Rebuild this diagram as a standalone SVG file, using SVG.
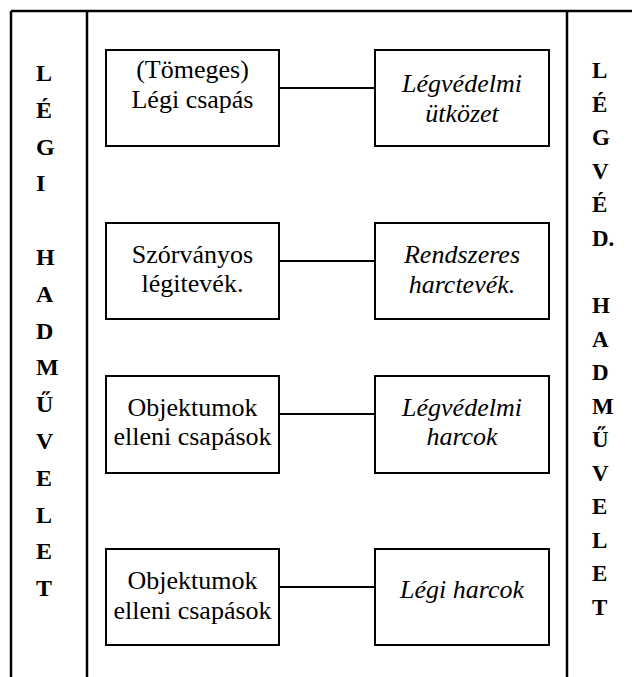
<svg xmlns="http://www.w3.org/2000/svg" width="632" height="677" viewBox="0 0 632 677">
<style>
.frame{stroke:#000;stroke-width:2.5;fill:none}
.box{stroke:#000;stroke-width:2;fill:#fff}
.conn{stroke:#000;stroke-width:2;fill:none}
text{font-family:'Liberation Serif',serif;fill:#000}
</style>
<rect width="632" height="677" fill="#fff"/>
<g id="frame">
<line class="frame" x1="11" y1="11" x2="632" y2="11"/>
<line class="frame" x1="11" y1="11" x2="11" y2="677"/>
<line class="frame" x1="87" y1="11" x2="87" y2="677"/>
<line class="frame" x1="567" y1="11" x2="567" y2="677"/>
</g>
<g id="left-title" font-weight="bold" font-size="24">
<text x="36" y="81">L</text>
<text x="36" y="117.8">É</text>
<text x="36" y="154.6">G</text>
<text x="36" y="191.4">I</text>
<text x="36" y="265">H</text>
<text x="36" y="301.8">A</text>
<text x="36" y="338.6">D</text>
<text x="36" y="375.4">M</text>
<text x="36" y="412.2">Ű</text>
<text x="36" y="449">V</text>
<text x="36" y="485.8">E</text>
<text x="36" y="522.6">L</text>
<text x="36" y="559.4">E</text>
<text x="36" y="596.2">T</text>
</g>
<g id="right-title" font-weight="bold" font-size="23">
<text x="592" y="78">L</text>
<text x="592" y="111.6">É</text>
<text x="592" y="145.1">G</text>
<text x="592" y="178.7">V</text>
<text x="592" y="212.2">É</text>
<text x="592" y="245.8">D.</text>
<text x="592" y="312.9">H</text>
<text x="592" y="346.5">A</text>
<text x="592" y="380">D</text>
<text x="592" y="413.6">M</text>
<text x="592" y="447.2">Ű</text>
<text x="592" y="480.7">V</text>
<text x="592" y="514.3">E</text>
<text x="592" y="547.8">L</text>
<text x="592" y="581.4">E</text>
<text x="592" y="615">T</text>
</g>
<g id="connectors">
<line class="conn" x1="279" y1="88" x2="375" y2="88"/>
<line class="conn" x1="279" y1="261" x2="375" y2="261"/>
<line class="conn" x1="279" y1="414" x2="375" y2="414"/>
<line class="conn" x1="279" y1="587" x2="375" y2="587"/>
</g>
<g font-size="26" text-anchor="middle">
<g id="n1">
<rect class="box" x="106" y="50" width="173" height="96"/>
<text x="192.5" y="78">(Tömeges)</text>
<text x="192.5" y="108">Légi csapás</text>
</g>
<g id="n2" font-style="italic">
<rect class="box" x="375" y="50" width="174" height="96"/>
<text x="462" y="92">Légvédelmi</text>
<text x="462" y="122">ütközet</text>
</g>
<g id="n3">
<rect class="box" x="106" y="223" width="173" height="96"/>
<text x="192.5" y="263">Szórványos</text>
<text x="192.5" y="292">légitevék.</text>
</g>
<g id="n4" font-style="italic">
<rect class="box" x="375" y="223" width="174" height="96"/>
<text x="462" y="263">Rendszeres</text>
<text x="462" y="293">harctevék.</text>
</g>
<g id="n5">
<rect class="box" x="106" y="376" width="173" height="97"/>
<text x="192.5" y="416">Objektumok</text>
<text x="192.5" y="445">elleni csapások</text>
</g>
<g id="n6" font-style="italic">
<rect class="box" x="375" y="376" width="174" height="97"/>
<text x="462" y="416">Légvédelmi</text>
<text x="462" y="445">harcok</text>
</g>
<g id="n7">
<rect class="box" x="106" y="549" width="173" height="96"/>
<text x="192.5" y="589">Objektumok</text>
<text x="192.5" y="619">elleni csapások</text>
</g>
<g id="n8" font-style="italic">
<rect class="box" x="375" y="549" width="174" height="96"/>
<text x="462" y="598">Légi harcok</text>
</g>
</g>
</svg>
